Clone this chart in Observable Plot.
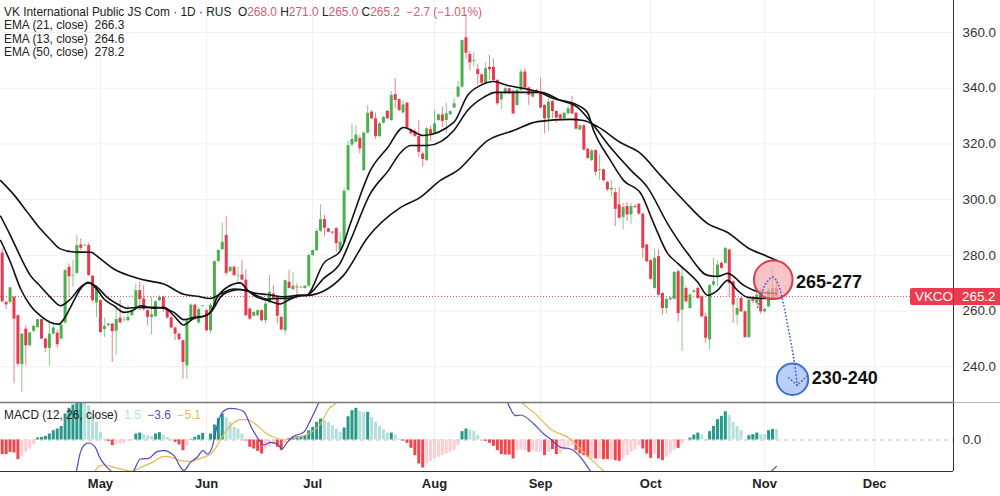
<!DOCTYPE html>
<html>
<head>
<meta charset="utf-8">
<script src="https://cdn.jsdelivr.net/npm/d3@7"></script>
<script src="https://cdn.jsdelivr.net/npm/@observablehq/plot@0.6"></script>
<style>
html,body{margin:0;padding:0;background:#fff;}
#chart{position:relative;width:1000px;height:496px;overflow:hidden;font-family:"Liberation Sans",Arial,sans-serif;color:#222;}
#chart svg{display:block;background:transparent;}
.leg{position:absolute;left:4px;font-size:11.9px;line-height:14px;white-space:pre;}
.red{color:#d9596e;}
#tag{position:absolute;left:910px;top:288px;width:90px;height:17px;background:#ee3a4e;border-radius:2px 0 0 2px;color:#fff;font-size:13.4px;line-height:17px;}
#tag span{position:absolute;top:0;}
#tag i{position:absolute;left:43px;top:0;width:1px;height:17px;background:#c92d3f;}
#edge{position:absolute;left:953px;top:402px;width:47px;height:1px;background:#b5b5b5;}
</style>
</head>
<body>
<div id="chart"></div>
<script>
// Daily candles (RUB)
const opens = [
280.8,263.1,263.1,264.9,258.3,240.7,253.5,247.5,252.7,254.1,
256.9,249.9,246.6,251.7,252,249.9,255.7,275.7,272.6,273.5,
283.7,283.4,283.5,272.5,262.9,263.7,253.3,254.7,255.3,252.7,
257.4,256.8,256.5,258.3,260.7,267.3,264.3,260.1,257.7,258,
263.7,264.9,260.7,257.5,253.9,251.7,249.3,240.3,256.5,262.1,
255.7,261.6,260.1,252.9,261.9,277.8,282,287.1,274.1,275.7,
272.6,272.9,271.1,260.7,258.1,258.3,260.1,256.5,262.9,266.1,
264.9,257.7,252.9,270.3,267.7,268.6,268.3,268.1,268.9,279.9,
281.7,288.6,292.8,289.5,288.3,289.6,281.7,284.6,303.3,319.6,
320.6,322,310.4,323.9,331.4,329,322.6,327.4,331.7,328.4,
337.7,335.9,331.1,334.6,325.1,324.5,322.7,316.4,314,325.1,
323.9,328.4,330.4,328.4,330.5,332.9,336.8,340.4,358.1,352.1,
349.6,346.7,344.8,341.9,347.5,347.5,342.8,335.8,338,339.8,
338.8,333.8,339.2,345.8,340.1,336.8,339.2,338.3,333.8,329,
335.2,331.6,330.4,329,330.8,334.2,331,325,326.5,318.1,
314,317.6,310.4,310.7,306.2,303.5,302.5,298.1,293.6,297.5,
294.5,297.5,298.3,294.8,283.7,278.1,268.1,279.5,266.3,260.9,
264,264.2,274.1,260.3,268.1,260.9,266.7,268.1,265.1,257.9,
249.6,269.3,272.3,277.1,277.1,281.9,270.5,258.5,264.5,259.7,
250.5,264.2,262.7,266.9,259.7,261.5,264.5,268];
const highs = [
282.3,263.5,268.5,265.2,258.6,252,254.7,252.4,254.8,257,
257.1,250.1,255.9,255.9,253,255.9,275,276.9,278.1,287.1,
285.9,283.8,284.4,272.7,269,264,257.4,255.6,255.6,261.9,
264,257.8,261.9,261,269.7,270.3,269.1,260.7,264.9,263.7,
265.5,265.2,261,257.8,254.2,252,249.6,257.1,262.5,262.5,
261.3,262,260.7,262.5,278,282,291.6,294,276,276.3,
275.7,278.1,274.7,261,259.7,260.4,260.4,263.3,272.7,269.1,
265.1,258,271.1,274.5,273.7,269.7,268.8,269.1,280.5,282,
289.5,298.1,294.3,289.7,288.6,290,288,304,321,327.2,
326.6,323,324.2,333.8,332,331.1,327.8,329.8,332,338.8,
343.4,336.1,335.6,335,325.6,325.4,328.4,317,326,326.5,
332,330.8,333.2,334.6,332,336.2,342.4,357.3,366.4,353.2,
352.9,348.7,345.2,349.1,351.7,350.5,343.1,338.4,340.4,340,
339.5,339.8,346.7,347,340.4,339.2,339.6,343.6,334.2,336.2,
335.6,332,330.8,331.4,333.8,337.1,331.3,326.9,326.9,318.4,
317.9,317.9,316,311,306.5,307,304,304.3,298.7,298.9,
298.7,298.1,298.7,295.1,284,278.4,281.9,281.9,266.6,264.6,
265,274.2,274.7,275.9,268.7,266.3,267.8,268.7,265.5,259.1,
269.4,278.9,278,277.7,282.7,282.2,270.8,264.5,264.9,260.1,
264.2,265.2,266.9,268,261,268.1,275.3,271];
const lows = [
263,260.5,262.5,233.8,240,230.8,240.3,247,252.3,253.8,
249.7,245.1,240.3,251.5,246.6,249.7,255.3,264.9,268.5,273.2,
281.7,283.1,272.5,263.1,257.7,252,250.5,254.3,241.5,244.2,
255.4,255.9,256.1,258.1,260.1,260.1,260,254.7,251.4,257.7,
263.4,259.5,257.1,253.5,249.3,249.3,235.6,235.6,256.2,256.5,
255.3,261.3,252.5,251.7,261.6,277.5,281.7,272.7,273.8,272.5,
270.3,270.8,258.1,256.5,257.9,258.1,256.1,255.3,262.7,264.1,
255.3,253,251.4,267.9,267.3,264.3,268,267.9,268.5,279.7,
281.3,288.2,286.5,288.1,287.5,281,281,284,303,318.8,
320.3,316.4,310.1,323.5,328.7,321.6,322.3,327.1,328.7,328.1,
332.6,331.6,330.7,325.3,323.2,322.3,315.2,311.6,313.7,320.8,
323.5,328.1,326,323.6,330.1,332.5,336.5,340,350.5,346.3,
347.5,341,341.4,341.5,342.8,342.4,333.8,332.3,337.8,337.6,
330.4,333.5,338.8,339.5,333.8,336.4,338,332.5,323.6,324.4,
329,327.5,328.4,328.7,330.5,330.4,325,324.8,317.4,314.4,
313.6,308.5,307,306.4,302.9,300.8,290.3,293,289.1,292.1,
290.9,296.8,294.4,278.9,277.3,271.1,267.7,265.3,258.5,259,
263.5,264,256.1,245.4,262.7,260.5,266.3,264.1,257.5,248.4,
246,268.7,268.7,274.9,276.8,265.1,255.5,254.9,259.3,250.1,
250.1,262.7,262,258.9,259.3,261.1,264.1,265];
const closes = [
263.3,262.2,268.3,257.1,240.9,251.7,247.5,252.1,254.5,256.9,
249.9,246.6,251.7,253.9,247.9,255,274.5,272.3,272.8,283.5,
282.5,283.6,272.7,263.7,268.5,252.3,254.5,255.3,252.6,256.9,
255.7,257,257.7,260.1,267.3,264.1,260.5,257.7,258.6,263.3,
264.9,260.7,257.5,253.9,251.7,249.7,241.5,256.5,262.1,256.9,
260.5,261.8,252.9,262.1,277.7,281.7,284.7,273.5,275.7,272.7,
272.8,271.1,258.3,257.1,259.5,260.1,256.5,262.5,266.7,264.3,
258.1,253.2,270.9,268.1,268.9,268.3,268.5,268.9,279.9,281.7,
288.6,292.8,289.7,288.3,288,284.2,284.7,303,319.4,321.6,
323.2,318.2,323.9,331,329,322.6,327.2,329.6,329,337.4,
335.6,332,334,325.6,323.6,322.7,317,314.4,325.4,323,
327.2,330.4,328.1,330.8,331.6,334.4,340.4,357.1,352.6,349.1,
349.9,344.9,341.8,347,346.6,342.8,334.4,338,339.8,338,
330.8,339.2,345.8,340,337.4,338.6,338.3,332.9,329,335,
331.6,329.3,329,331,332.6,330.8,325.3,326.5,317.8,314.8,
317.5,309.8,310.7,306.8,303.5,304,296.5,293.3,297.2,294.5,
297.5,297.2,294.8,282.5,277.7,271.4,278.9,265.7,260.9,264.2,
264.6,273.8,259.1,272.3,263.3,265.7,267.2,264.5,257.9,250.2,
269.1,270.5,276.5,275.3,282.5,269.9,262.1,260.9,259.7,250.5,
263.9,263.5,265.7,259.7,260.6,267.5,268.1,265.2];

// Moving averages: [bar, value]
const ema13 = [[-0.4,285.3],[2.1,277.5],[4.7,267.9],[7.2,261.9],[9.7,258.3],[12.3,255.9],[14.4,255.3],[15.7,257.1],[17.8,262.5],[19.9,267.9],[21.8,270.3],[23.7,268.5],[25.9,264.3],[28.4,261.9],[31,259.5],[33.1,260.1],[35.2,261.9],[38.6,261],[41.1,261.3],[43.7,258.3],[46.2,255],[48.8,257.4],[51.3,258.1],[53,259.5],[54.7,264.9],[57.2,268.5],[60.6,270.1],[62.3,267.7],[64.9,264.9],[67.4,263.9],[70.8,262.5],[72.5,263.7],[75.9,265.5],[77.4,265.6],[81.8,277.1],[86.1,281.7],[88.6,291.4],[93.7,310.5],[98.1,318.7],[102.1,325.9],[107.2,323],[114.9,327.7],[118.4,337.4],[121.7,341],[125,342.4],[128.6,341],[132.7,339.9],[136.2,338.8],[140.3,336.3],[145.4,334.5],[148.9,331.3],[150.5,324.8],[154.8,314],[158.1,306.9],[162.5,302.2],[165.8,291.4],[169.3,280.7],[171.9,277.1],[177,270.3],[179.5,265.6],[182,267.4],[184.6,271],[187.1,267.4],[189.7,264.9],[193.8,264.5],[197,264.6]];
const ema21 = [[-0.4,294],[2.1,287.1],[4.7,279.3],[7.2,272.7],[9.7,268.9],[12.3,264.9],[14.8,261.9],[17.4,264.3],[19.9,268.5],[22,270.1],[24.2,268.5],[26.7,264.9],[29.3,262.5],[31.8,261],[35.2,261.3],[38.6,261.3],[41.1,261],[43.7,259.5],[46.2,256.9],[48.8,257.7],[51.3,258.1],[53.4,260.1],[55.5,264.9],[57.2,266.7],[60.6,267.7],[62.7,267.1],[64.9,265.5],[67.4,264.3],[70.8,264.5],[72.5,264.5],[75.9,265.5],[77.4,265.6],[81.8,271.7],[86.1,277.4],[88.6,285.3],[93.7,302.2],[98.3,310.5],[101.4,316.9],[103.9,319.4],[108.2,319.4],[114.9,324.8],[118.4,332],[122.5,336.7],[125.5,338.5],[131.9,338.5],[137,338.5],[142.1,335.6],[146.4,333.1],[150.5,326.6],[154.8,318.7],[160,310.5],[164.2,304.4],[169.3,291.4],[174.4,280.7],[179.5,272.8],[182,272.4],[184.6,273.5],[188.7,269.2],[193,266.7],[197,266.3]];
const ema50 = [[-0.4,306.8],[3,301.7],[6.4,295.5],[9.7,289.5],[12.3,285.6],[14.8,282.3],[18.2,281.2],[22.5,281.1],[25,278.7],[28.4,275.1],[32.6,272.6],[36.9,270.9],[41.1,269.7],[46.2,266],[49.6,265.3],[53,264.5],[55.5,266.1],[58.9,267.9],[61.5,267.5],[64,266.5],[67.4,265.9],[71.7,265.1],[75.9,265.7],[77.4,265.6],[86.8,272.7],[93,286.4],[101.4,297.2],[106.4,300.8],[111.5,306.9],[115.8,310.4],[123.5,321.2],[130.1,324.8],[136.2,328],[144.6,328.8],[147.9,328.4],[151.5,326.2],[157.3,320.5],[162.4,316.6],[167.5,308.7],[173.4,299.7],[179.5,291.4],[184.6,288.2],[189.6,282.8],[194.7,279.6],[197,278.2]];

// MACD pane
const histValues = [
-2,-2,-1.7,-1.77,-2.68,-2.23,-1.68,-1.23,-.68,.27,
.36,.5,.82,1.27,1.5,1.86,3.55,4.32,4.77,5.14,
5.14,5.05,4.68,3.55,2.41,1.05,.14,-.18,-.77,-.68,
-.55,-.45,-.14,.05,.82,.95,.73,.59,.5,.82,
1,.68,.36,.09,-.32,-.68,-1.45,-.77,.09,.36,
.64,.91,.05,.82,2.05,2.95,3.55,3.09,2.41,1.73,
1.5,.82,-.14,-1,-1.23,-1.55,-1.91,-1.23,-1,-.68,
-1,-1.45,-.45,.23,.41,.5,.5,.59,1.27,1.73,
2.41,2.86,2.64,2.41,1.95,1.5,1.05,1.64,3.18,4,
4.32,3.86,3.77,3.77,3.09,2.41,1.86,1.41,.95,.95,
.68,.14,-.14,-.45,-1.14,-2.14,-3.27,-3.82,-3.27,-2.91,
-2.59,-2.36,-2.14,-1.91,-1.68,-1.45,-.77,1.14,1.5,1.36,
1.18,.59,0,-.18,-.45,-.86,-1.45,-2,-2.05,-2.05,
-2.59,-1.45,-1.36,-1.45,-1.68,-1.45,-1.68,-1.68,-2.14,-1.68,
-1.32,-2,-1.91,-1.45,-1,-.77,-1.45,-1.91,-2.14,-2.36,
-2.59,-2.59,-2.59,-2.68,-2.68,-2.73,-2.82,-2.91,-2.59,-2.14,
-1.68,-1.36,-.77,-1.23,-1.91,-2.5,-1.91,-2.59,-2.82,-2.36,
-1.91,-1.45,-1.14,-.55,-.09,.27,.68,.95,.68,.05,
1.14,1.86,2.77,3.23,3.86,3.32,2.41,1.82,1.27,0,
.59,.73,.95,.73,.73,1.27,1.45,1.45];
const histTones = "rrrrrppppt"+"tttttttttt"+"tllllllrrp"+"ppplttlllt"+"tlllrrrptt"+"ttlttttlll"+"llrrrrrppp"+"rrpttttttt"+"ttlllllttt"+"tlltlllllt"+"llrrrrrrpp"+"pppppppttl"+"lllrrrrrrr"+"rppprppprp"+"rrpppprrrr"+"prprrprrpp"+"ppprrrprrp"+"pprpptttll"+"tttttlllll"+"tttllttl";
const macdLine = [[18.9,-4.27],[19.9,-1.68],[21.2,-.55],[22,-.41],[23.7,-1],[24.6,-2.14],[25.9,-3.27],[28,-4.41],[30.1,-5.77],[32.2,-5.32],[33.5,-4.18],[35.2,-2.59],[37.3,-2.5],[39.4,-1.59],[41.1,-1.45],[43.7,-2.14],[45.4,-3.73],[46.2,-4.18],[47.9,-3.05],[49.6,-2.36],[51.1,-1.45],[52.2,-1.91],[53.4,-1],[54.7,1.95],[56,3.77],[58.1,4.32],[59.8,4.23],[61.5,3.86],[63.2,1.95],[64.9,.36],[66.6,-.68],[68.3,-.32],[70,-.55],[71.2,-1.23],[72.5,-.32],[74.2,.5],[76.7,1.05],[78.4,2.64],[80.6,5.14],[82.2,6.95],[95,14],[115,17],[126,7],[128.5,5.14],[130.6,3.32],[131.9,3.41],[135.3,2.18],[137.8,.82],[139.5,.14],[142.1,-1],[144.6,-1.23],[147.2,-2.36],[149.7,-4.27],[155,-8],[170,-13],[185,-9],[193,-5.5],[195.7,-4.3],[197,-3.6]];
const signalLine = [[20,-5.5],[23.7,-4.18],[24.6,-3.59],[26.3,-3.41],[28.4,-3.73],[31,-4.05],[33.1,-4.27],[35.2,-3.73],[38.6,-2.95],[41.1,-2.23],[43.2,-2.36],[45.4,-2.82],[47.9,-2.91],[50.4,-2.5],[53,-1.91],[54.7,-.77],[56.4,.82],[58.1,1.95],[60.6,2.77],[62.3,2.77],[64.9,1.95],[67.4,.82],[70,.23],[71.7,0],[73.3,.23],[75.9,.5],[78.4,.95],[81,2.18],[83.1,4.23],[85.2,5.14],[87.8,6.95],[100,13],[118,17],[127,12],[132.3,5.14],[135.3,3.77],[139.5,1.5],[144.6,.14],[148,-1.68],[153.1,-4.27],[165,-10],[180,-11],[190,-7],[197,-5.1]];

// Axes
const priceTicks = [240,260,280,300,320,340,360];
const monthLabels = ["May","Jun","Jul","Aug","Sep","Oct","Nov","Dec"];
const monthBars = [25,52,79,110,137,165,194,222];
const lastPrice = 265.2;

// Annotations
const resistanceZone = [{bar:196.2,price:271.2}];
const supportZone = [{bar:201.1,price:235.5}];
const zoneLabels = [{bar:202,price:270.2,text:"265-277"},{bar:206,price:235.7,text:"230-240"}];
const forecastPath = [[192.2,261.4],[193.4,266.8],[194.3,269.8],[196,272.2],[197.2,270.4],[198.5,264.4],[199.8,255.4],[201.5,242.2],[202.3,233.3]];
const forecastArrow = [[200.2,236],[202.3,233.3],[205,236.9]];

const xDomain = [-1.7/3.93, (953-1.7)/3.93];
const gridColor = "#f0f0f3", upColor = "#4caf50", downColor = "#e8394d";
const bars = d3.range(opens.length);
const toneColor = {t:"#26998b", l:"#b4dfdb", r:"#f0454f", p:"#ffcdd3"};
const sharedStyle = {fontFamily:'"Liberation Sans",Arial,sans-serif', background:"transparent", overflow:"visible"};

const pricePlot = Plot.plot({
  width:1000, height:402, marginTop:0, marginBottom:0, marginLeft:0, marginRight:47,
  style:sharedStyle,
  x:{domain:xDomain, axis:null},
  y:{domain:[360-(402-32)/2.785, 360+32/2.785], axis:null},
  marks:[
    Plot.ruleY(priceTicks,{stroke:gridColor,strokeWidth:1}),
    Plot.ruleX(monthBars,{stroke:gridColor,strokeWidth:1}),
    Plot.ruleY([lastPrice],{stroke:"#e0566c",strokeWidth:1,strokeDasharray:"1,2"}),
    Plot.ruleX(bars,{x:i=>i,y1:i=>lows[i],y2:i=>highs[i],stroke:i=>closes[i]>=opens[i]?upColor:downColor,strokeOpacity:0.65,strokeWidth:1}),
    Plot.ruleX(bars,{x:i=>i,y1:i=>opens[i],y2:i=>closes[i],stroke:i=>closes[i]>=opens[i]?upColor:downColor,strokeWidth:3}),
    Plot.line(ema50,{x:d=>d[0],y:d=>d[1],stroke:"#111",strokeWidth:1.6,curve:"monotone-x"}),
    Plot.line(ema21,{x:d=>d[0],y:d=>d[1],stroke:"#111",strokeWidth:1.6,curve:"monotone-x"}),
    Plot.line(ema13,{x:d=>d[0],y:d=>d[1],stroke:"#111",strokeWidth:1.6,curve:"monotone-x"}),
    Plot.dot(resistanceZone,{x:"bar",y:"price",r:19.3,fill:"#f6a9af",fillOpacity:0.7,stroke:"#d63f4f",strokeWidth:2}),
    Plot.dot(supportZone,{x:"bar",y:"price",r:15.7,fill:"#b7ccf6",fillOpacity:0.95,stroke:"#3c6fd6",strokeWidth:2}),
    Plot.line(forecastPath,{x:d=>d[0],y:d=>d[1],stroke:"#3f66c8",strokeWidth:1.8,strokeDasharray:"0.1,3.4",strokeLinecap:"round",curve:"catmull-rom"}),
    Plot.line(forecastArrow,{x:d=>d[0],y:d=>d[1],stroke:"#3f66c8",strokeWidth:1.8,strokeDasharray:"0.1,3.4",strokeLinecap:"round"}),
    Plot.text(zoneLabels,{x:"bar",y:"price",text:"text",textAnchor:"start",fontSize:18,fontWeight:"bold",fill:"#111",style:{letterSpacing:"0.4px"}}),
    Plot.ruleX([xDomain[1]],{stroke:"#333",strokeWidth:1}),
    Plot.axisY(priceTicks,{anchor:"right",tickSize:0,tickPadding:9,tickFormat:d=>d.toFixed(1),fontSize:13.4,fill:"#333",label:null})
  ]
});

const macdPlot = Plot.plot({
  width:1000, height:94, marginTop:0, marginBottom:25, marginLeft:0, marginRight:47,
  style:sharedStyle,
  x:{domain:xDomain, axis:null},
  y:{domain:[-31.5/7.33, 37.5/7.33], axis:null},
  marks:[
    Plot.ruleX(monthBars,{stroke:gridColor,strokeWidth:1}),
    Plot.ruleY([0],{stroke:"#bdbdbd",strokeWidth:1,strokeDasharray:"4,4"}),
    Plot.ruleX(bars,{x:i=>i,y1:()=>0,y2:i=>histValues[i],stroke:i=>toneColor[histTones[i]],strokeWidth:3,clip:true}),
    Plot.line(signalLine,{x:d=>d[0],y:d=>d[1],stroke:"#e9b84f",strokeWidth:1.2,curve:"monotone-x",clip:true}),
    Plot.line(macdLine,{x:d=>d[0],y:d=>d[1],stroke:"#5348c0",strokeWidth:1.2,curve:"monotone-x",clip:true}),
    Plot.ruleY([-31.5/7.33],{stroke:"#333",strokeWidth:1}),
    Plot.ruleY([37.5/7.33],{stroke:"#777",strokeWidth:1.5}),
    Plot.ruleX([xDomain[1]],{stroke:"#333",strokeWidth:1}),
    Plot.axisY([0],{anchor:"right",tickSize:0,tickPadding:9,tickFormat:d=>d.toFixed(1),fontSize:13.4,fill:"#333",label:null}),
    Plot.axisX(monthBars,{anchor:"bottom",tickSize:0,tickPadding:7,tickFormat:d=>monthLabels[monthBars.indexOf(d)],fontSize:13,fontWeight:"bold",fill:"#222",label:null})
  ]
});

const chart = document.getElementById("chart");
chart.append(pricePlot, macdPlot);

function legend(top, html){
  const el = document.createElement("div");
  el.className = "leg"; el.style.top = top + "px"; el.innerHTML = html;
  chart.append(el);
}
legend(5,'VK International Public JS Com · 1D · RUS  O<span class="red">268.0</span> H<span class="red">271.0</span> L<span class="red">265.0</span> C<span class="red">265.2 &nbsp;−2.7 (−1.01%)</span>');
legend(18,'EMA (21, close)  266.3');
legend(32,'EMA (13, close)  264.6');
legend(45,'EMA (50, close)  278.2');
legend(408,'MACD (12, 26, close)  <span style="color:#b4dfdb">1.5</span>  <span style="color:#5348c0">−3.6</span>  <span style="color:#e9b84f">−5.1</span>');

const tag = document.createElement("div");
tag.id = "tag";
tag.innerHTML = '<span style="left:5px">VKCO</span><i></i><span style="left:52px">265.2</span>';
chart.append(tag);
const edge = document.createElement("div");
edge.id = "edge";
chart.append(edge);
</script>
</body>
</html>
